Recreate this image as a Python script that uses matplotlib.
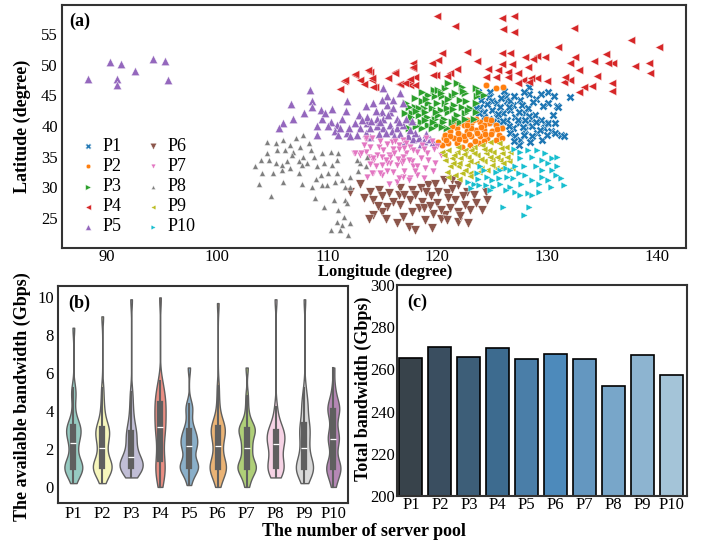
import numpy as np
import pandas as pd
import matplotlib
matplotlib.use("Agg")
import matplotlib.pyplot as plt
import seaborn as sns

# ---------------- data ----------------
pools = ["P1", "P2", "P3", "P4", "P5", "P6", "P7", "P8", "P9", "P10"]

# (a) server locations per pool, (longitude, latitude)
P1_pts = [(128.3, 46.4), (128.3, 45.2), (129.4, 45.2), (130.1, 45.6), (130.6, 44.8), (130.1, 43.8),
          (130.9, 43.3), (124.8, 45.6), (124.7, 44.7), (125.0, 44.0), (125.4, 43.7), (123.9, 43.1),
          (123.5, 42.9), (124.2, 42.3), (125.0, 42.6), (125.7, 43.1), (126.3, 44.0), (126.9, 43.4),
          (127.5, 44.2), (127.7, 43.4), (126.6, 42.6), (126.0, 42.1), (125.4, 41.5), (124.7, 41.2),
          (125.1, 40.7), (125.7, 40.4), (126.3, 41.0), (127.1, 41.5), (127.4, 40.4), (126.9, 39.6),
          (126.6, 38.8), (127.1, 38.3), (127.5, 37.7), (127.4, 36.9), (128.0, 39.3), (128.2, 40.4),
          (128.5, 41.2), (128.9, 41.8), (128.6, 39.9), (129.1, 38.8), (129.7, 39.6), (129.8, 40.4),
          (130.3, 39.1), (130.7, 38.8), (131.2, 38.5), (130.1, 40.4), (130.7, 40.4), (129.4, 41.0),
          (129.5, 37.7), (128.0, 42.1), (128.2, 42.9), (127.4, 42.3), (126.2, 44.8), (126.6, 44.1),
          (124.2, 41.5), (123.8, 42.1), (128.6, 38.3), (127.9, 38.5), (132.1, 44.7), (131.0, 43.1),
          (131.5, 38.4), (124.5, 43.6), (125.8, 44.5), (127.0, 44.8), (127.9, 45.6), (129.0, 44.3),
          (129.6, 43.2), (128.7, 43.9), (126.5, 43.0), (127.3, 41.0), (128.3, 41.6), (129.0, 40.6),
          (128.0, 40.9), (127.8, 39.8), (126.5, 39.9), (126.0, 40.8), (129.3, 39.3), (130.0, 38.5),
          (128.4, 37.4), (127.0, 37.5), (125.5, 41.9), (124.0, 44.2), (123.7, 45.5), (126.1, 45.7),
          (130.5, 41.8)]
P2_pts = [(124.4, 46.7), (125.3, 46.1), (126.0, 46.4), (120.6, 38.0), (121.2, 39.1), (121.8, 39.6),
          (122.4, 40.2), (123.1, 40.4), (123.9, 40.7), (124.7, 40.4), (125.3, 40.2), (125.9, 39.6),
          (125.6, 38.5), (125.0, 39.1), (124.2, 39.3), (123.5, 39.3), (122.7, 39.1), (122.1, 38.5),
          (121.5, 38.0), (121.0, 37.2), (120.4, 36.9), (121.8, 37.2), (122.5, 37.7), (123.1, 38.3),
          (123.9, 38.3), (124.5, 38.0), (123.8, 37.2), (123.0, 36.9), (122.2, 36.6), (125.3, 37.7),
          (125.9, 38.0), (124.4, 41.2), (123.5, 41.2), (122.7, 41.0), (121.9, 40.4), (121.3, 39.9),
          (123.1, 39.6), (120.7, 38.5), (120.1, 37.4), (124.2, 40.2), (122.4, 38.3), (121.2, 38.4),
          (121.9, 38.9), (122.9, 38.6), (123.6, 38.8), (124.3, 38.7), (124.9, 38.6), (125.4, 39.5),
          (124.0, 39.8), (122.7, 40.1), (121.6, 40.8), (123.2, 40.9), (124.9, 41.0), (122.0, 37.8),
          (123.4, 37.6), (124.2, 37.5), (120.8, 37.7)]
P3_pts = [(119.7, 45.9), (120.7, 46.2), (121.8, 47.0), (122.2, 46.4), (123.5, 46.2), (122.5, 45.3),
          (123.6, 44.8), (122.1, 44.2), (121.3, 44.8), (120.4, 44.8), (119.8, 44.8), (119.2, 45.0),
          (118.0, 44.5), (118.6, 44.0), (119.2, 43.7), (120.0, 43.7), (120.7, 43.7), (121.5, 43.4),
          (122.2, 43.1), (123.0, 42.9), (123.5, 42.3), (122.5, 42.1), (121.8, 41.8), (121.0, 42.3),
          (120.3, 42.6), (119.5, 42.9), (118.8, 42.9), (118.0, 43.1), (117.4, 43.1), (117.1, 42.1),
          (117.7, 42.1), (118.3, 41.8), (119.1, 41.5), (119.8, 41.2), (120.6, 41.2), (121.3, 40.7),
          (122.1, 40.7), (120.0, 40.2), (119.2, 40.2), (118.5, 40.7), (117.7, 40.7), (117.4, 39.6),
          (118.6, 39.6), (119.5, 39.6), (120.9, 39.6), (124.2, 45.0), (123.5, 43.7), (121.6, 45.3),
          (120.1, 45.9), (118.3, 42.9), (118.9, 42.3), (120.9, 42.9), (120.1, 41.8), (118.1, 39.9),
          (122.5, 41.2), (123.3, 41.2), (118.6, 45.5), (119.0, 44.3), (120.3, 45.4), (121.0, 44.3),
          (122.6, 44.0), (121.4, 42.8), (122.8, 42.6), (119.9, 42.3), (118.1, 42.5), (117.6, 41.4),
          (118.9, 40.9), (120.5, 40.6), (121.6, 41.2), (119.6, 40.7), (120.4, 39.8), (122.3, 45.7),
          (121.0, 47.0), (123.8, 45.6), (117.2, 43.8)]
P4_pts = [(120.0, 57.9), (121.6, 56.3), (125.9, 57.6), (127.0, 57.9), (126.0, 55.8), (127.0, 55.3),
          (132.4, 56.0), (137.6, 54.0), (140.1, 52.9), (131.0, 52.9), (122.7, 52.1), (120.4, 51.9),
          (125.9, 51.9), (126.6, 51.9), (135.3, 51.7), (132.5, 51.2), (134.2, 50.6), (136.0, 50.3),
          (138.0, 49.8), (139.2, 50.3), (139.3, 48.6), (135.5, 50.3), (132.1, 50.3), (132.9, 49.1),
          (134.5, 48.1), (135.9, 47.0), (135.9, 45.7), (134.1, 46.5), (133.3, 46.4), (132.9, 45.5),
          (131.5, 47.2), (132.1, 47.5), (130.0, 47.3), (129.1, 47.8), (128.5, 47.8), (128.2, 49.6),
          (129.1, 51.4), (129.8, 51.2), (128.0, 51.2), (128.7, 50.9), (126.8, 50.1), (125.9, 50.1),
          (125.5, 49.1), (124.6, 49.3), (126.4, 48.8), (127.3, 48.6), (127.8, 47.5), (126.4, 48.0),
          (125.3, 48.0), (124.4, 48.0), (123.6, 50.6), (121.8, 49.3), (121.2, 48.6), (120.9, 48.1),
          (119.9, 48.3), (119.5, 50.3), (120.1, 50.8), (117.8, 50.3), (117.8, 49.5), (116.2, 48.8),
          (115.5, 47.8), (117.3, 47.3), (118.0, 48.0), (116.5, 46.8), (117.5, 46.7), (113.9, 48.8),
          (114.1, 47.5), (114.3, 46.4), (127.3, 47.0), (128.3, 47.2), (131.6, 48.0), (111.2, 46.0),
          (111.5, 47.3), (112.5, 48.3), (113.0, 47.5), (113.3, 46.8), (113.7, 49.1), (114.1, 47.8),
          (114.2, 46.4), (116.2, 48.6), (116.6, 46.8), (117.1, 47.0), (117.5, 47.7), (118.0, 46.7),
          (117.8, 49.6), (119.6, 48.3), (112.5, 48.5), (111.6, 47.5)]
P5_pts = [(88.3, 47.6), (90.3, 50.4), (91.3, 50.1), (92.5, 49.0), (90.9, 47.7), (90.9, 46.7),
          (94.2, 50.9), (95.3, 50.6), (95.5, 47.5),
          (108.4, 45.9), (106.7, 43.5), (108.6, 44.1), (108.6, 43.0), (107.9, 42.1), (106.9, 41.2),
          (106.0, 40.4), (105.6, 39.7), (109.4, 42.6), (110.4, 42.7), (111.8, 44.0), (111.7, 42.4),
          (111.3, 41.2), (110.3, 40.7), (109.5, 41.2), (109.1, 39.9), (110.1, 39.9), (110.9, 40.2),
          (110.7, 39.1), (109.1, 38.5), (111.0, 38.5), (111.8, 38.8), (112.5, 40.4), (113.5, 43.3),
          (114.2, 43.7), (115.1, 46.1), (115.4, 44.8), (116.0, 44.2), (115.4, 43.4), (115.0, 42.3),
          (114.5, 41.2), (113.6, 40.4), (113.0, 39.6), (112.7, 38.5), (113.5, 38.8), (113.9, 39.6),
          (114.5, 39.9), (115.1, 41.2), (115.7, 42.3), (116.3, 41.2), (115.7, 40.2), (115.1, 39.6),
          (116.3, 39.6), (116.9, 40.2), (113.6, 41.5), (116.0, 42.9), (115.0, 44.2), (112.1, 38.3),
          (109.8, 42.1), (117.3, 38.4), (117.8, 37.8), (118.3, 38.0), (118.8, 37.6), (119.3, 37.9),
          (118.0, 38.8), (119.0, 38.6), (117.1, 37.6), (119.6, 37.3), (118.5, 37.1), (116.6, 45.3),
          (116.9, 43.8), (117.2, 41.2), (116.6, 38.7), (114.0, 40.8), (114.8, 40.6), (115.5, 41.8),
          (116.5, 40.6), (115.9, 39.1), (114.7, 38.6), (113.9, 38.2), (116.1, 38.3), (112.9, 41.8),
          (112.0, 39.6), (111.2, 39.7), (113.2, 40.9), (114.4, 42.5), (117.5, 39.3), (115.3, 38.9),
          (117.7, 40.8)]
P6_pts = [(113.0, 30.6), (112.1, 29.3), (113.9, 29.3), (114.7, 29.5), (114.2, 27.9), (115.0, 28.5),
          (115.6, 29.0), (116.5, 28.7), (116.6, 29.8), (117.7, 29.5), (118.5, 29.8), (119.2, 30.4),
          (119.8, 30.6), (120.6, 31.2), (121.3, 31.2), (121.9, 30.4), (122.7, 29.3), (123.3, 28.7),
          (124.4, 29.3), (124.5, 27.9), (124.1, 26.3), (123.0, 26.3), (122.5, 27.1), (121.6, 27.9),
          (121.2, 26.6), (120.7, 25.5), (120.3, 24.9), (120.9, 24.7), (121.9, 24.4), (122.8, 24.1),
          (121.9, 26.0), (120.0, 27.4), (119.4, 28.5), (118.6, 27.6), (118.3, 26.6), (117.5, 27.9),
          (116.6, 27.1), (116.0, 27.6), (115.4, 26.8), (115.0, 26.0), (114.2, 25.5), (113.8, 24.9),
          (115.3, 24.9), (116.3, 24.1), (117.4, 23.6), (118.0, 23.0), (119.5, 23.3), (118.8, 26.6),
          (120.1, 29.3), (120.9, 29.0), (117.7, 26.0), (120.3, 26.3), (117.0, 28.7), (118.0, 28.8),
          (119.0, 29.3), (121.3, 29.7), (122.3, 28.6), (123.5, 27.5), (122.1, 25.3), (119.6, 25.6),
          (118.9, 24.6), (116.9, 25.2), (114.6, 27.0), (113.3, 28.2), (121.0, 28.2), (119.3, 27.0)]
P7_pts = [(112.4, 35.5), (113.0, 35.3), (113.5, 35.8), (113.9, 36.6), (113.5, 37.7), (114.1, 38.0),
          (114.7, 36.6), (115.1, 36.1), (114.5, 35.3), (113.8, 35.0), (114.2, 34.2), (115.0, 33.6),
          (115.7, 33.9), (116.3, 33.6), (115.6, 35.3), (116.0, 36.3), (116.5, 36.9), (116.9, 37.7),
          (117.5, 36.6), (117.2, 35.5), (116.9, 35.0), (117.7, 34.2), (117.8, 33.4), (113.6, 31.7),
          (114.2, 32.3), (115.0, 32.0), (115.6, 30.6), (116.3, 30.9), (116.9, 31.7), (117.5, 31.5),
          (118.2, 32.0), (115.0, 35.0), (115.9, 37.4), (118.2, 35.8), (113.5, 38.0), (113.3, 36.9),
          (112.5, 35.5), (113.1, 35.5), (114.2, 34.7), (115.4, 33.9), (115.7, 35.0), (116.5, 36.3),
          (117.2, 37.2), (117.8, 36.1), (118.6, 36.9), (119.1, 35.5), (118.5, 34.7), (119.2, 34.4),
          (119.8, 33.9), (118.9, 33.1), (118.2, 33.4), (117.4, 34.4), (116.8, 33.9), (116.0, 32.5),
          (116.5, 31.5), (117.4, 31.2), (114.8, 32.3), (114.1, 32.3), (119.5, 37.5), (120.0, 36.8),
          (119.0, 38.0), (120.3, 35.2), (119.6, 32.6), (118.8, 31.5), (114.8, 37.5), (115.4, 37.0),
          (116.2, 37.6), (117.0, 36.4), (115.3, 34.4), (116.4, 34.6), (116.9, 34.2), (118.8, 36.2),
          (119.7, 36.2), (117.0, 32.7), (115.4, 32.7), (118.0, 32.7), (114.4, 33.4), (116.1, 35.6),
          (113.9, 33.8)]
P8_pts = [(104.5, 37.4), (105.3, 37.2), (106.0, 37.7), (106.6, 36.9), (107.2, 38.0), (107.8, 38.5),
          (108.3, 37.2), (107.5, 36.6), (106.9, 35.8), (106.2, 36.1), (105.4, 36.1), (104.5, 35.5),
          (104.7, 34.4), (105.3, 33.9), (105.9, 32.8), (105.1, 32.3), (104.1, 32.3), (103.4, 33.5),
          (103.8, 30.6), (104.9, 28.6), (105.9, 33.6), (106.8, 35.3), (107.4, 34.2), (107.8, 35.0),
          (107.7, 33.6), (107.4, 32.3), (106.6, 33.1), (108.5, 36.1), (107.7, 30.6), (108.6, 30.1),
          (109.5, 30.4), (109.5, 35.5), (110.3, 35.8), (111.0, 35.5), (109.1, 33.4), (109.7, 33.9),
          (110.4, 33.6), (110.9, 34.4), (109.4, 32.0), (110.1, 32.3), (110.9, 32.3), (110.0, 30.4),
          (110.7, 30.9), (111.3, 31.2), (112.1, 31.7), (108.9, 28.2), (109.7, 26.8), (110.6, 27.9),
          (111.6, 27.9), (111.0, 26.3), (111.8, 27.4), (111.5, 25.2), (110.9, 24.4), (111.3, 23.8),
          (112.1, 24.1), (110.3, 23.0), (111.2, 23.0), (111.9, 22.2), (113.0, 33.9), (113.5, 33.4),
          (112.7, 34.4), (113.6, 35.0), (112.8, 32.6), (111.6, 30.1), (112.1, 30.1), (106.3, 34.3),
          (108.2, 34.0), (108.8, 35.0), (109.0, 31.3), (104.0, 34.5), (106.0, 30.9)]
P9_pts = [(120.4, 35.8), (121.0, 36.1), (121.8, 35.8), (122.5, 36.1), (123.3, 36.6), (124.1, 36.9),
          (124.8, 37.4), (125.6, 37.2), (126.2, 36.6), (126.6, 35.8), (125.9, 35.5), (125.1, 35.8),
          (124.4, 35.5), (123.6, 35.3), (122.8, 35.0), (122.1, 34.7), (121.3, 34.7), (120.7, 34.4),
          (121.2, 33.4), (121.9, 33.4), (122.7, 33.6), (123.5, 33.9), (124.2, 34.2), (125.0, 34.4),
          (125.7, 34.4), (126.5, 34.2), (125.3, 33.1), (124.5, 32.8), (123.8, 32.5), (123.0, 32.3),
          (122.2, 32.3), (121.6, 32.0), (120.6, 35.3), (120.9, 32.5), (126.8, 33.1), (125.9, 33.1),
          (123.1, 36.1), (124.7, 36.1), (121.0, 31.6), (122.0, 31.4), (123.0, 31.8), (121.5, 35.2),
          (122.4, 35.4), (123.3, 35.6), (124.0, 34.6), (124.8, 35.0), (125.4, 34.9), (126.0, 34.0),
          (123.0, 34.2), (122.0, 33.9), (121.4, 34.0), (124.0, 33.2), (125.0, 33.6), (126.3, 35.0),
          (124.2, 36.3), (121.9, 36.6), (122.5, 32.8), (125.8, 36.4)]
P10_pts = [(127.5, 35.8), (128.2, 36.1), (129.1, 36.1), (129.8, 35.5), (130.4, 34.7), (130.9, 35.0),
           (129.5, 34.4), (130.1, 33.9), (130.9, 33.4), (129.5, 32.8), (130.4, 32.8), (131.2, 31.5),
           (129.5, 31.7), (130.1, 31.2), (129.2, 30.6), (130.3, 30.1), (131.5, 30.4), (127.5, 34.7),
           (127.9, 33.4), (127.1, 33.4), (127.4, 32.3), (128.0, 32.0), (126.9, 31.5), (126.3, 31.7),
           (125.7, 32.8), (125.3, 32.5), (125.0, 31.2), (124.5, 31.7), (124.2, 32.8), (123.9, 33.4),
           (123.6, 32.3), (123.3, 30.6), (123.8, 30.4), (124.4, 30.4), (125.1, 30.1), (125.7, 30.6),
           (126.6, 30.1), (127.1, 29.3), (128.2, 29.0), (128.6, 28.7), (129.2, 29.3), (127.5, 28.7),
           (128.3, 26.8), (126.0, 26.7), (127.9, 25.5), (126.2, 33.1), (126.6, 32.8), (125.6, 31.5),
           (122.8, 30.8), (123.1, 29.9), (128.6, 34.9), (129.0, 33.4), (128.6, 31.2), (127.6, 30.6),
           (126.2, 29.6), (124.8, 29.5), (123.7, 31.4), (130.8, 32.0), (127.0, 36.3)]
locations = [P1_pts, P2_pts, P3_pts, P4_pts, P5_pts, P6_pts, P7_pts, P8_pts, P9_pts, P10_pts]

# (b) available bandwidth samples per pool (Gbps)
bw_P1 = [0.2, 0.5, 0.7, 0.8, 0.9, 1.0, 1.0, 1.05, 1.1, 1.1, 1.2, 1.3, 1.5, 1.8, 2.1, 2.3, 2.4, 2.6,
         2.8, 2.9, 3.0, 3.0, 3.1, 3.2, 3.3, 3.5, 3.9, 4.6, 5.0, 5.2, 8.4]
bw_P2 = [0.2, 0.5, 0.7, 0.8, 0.9, 1.0, 1.0, 1.1, 1.1, 1.15, 1.2, 1.3, 1.4, 1.7, 2.0, 2.15, 2.3, 2.5,
         2.7, 2.8, 2.9, 3.0, 3.05, 3.1, 3.3, 3.6, 4.0, 4.5, 5.2, 9.0]
bw_P3 = [0.5, 0.7, 0.85, 0.95, 1.0, 1.0, 1.05, 1.1, 1.1, 1.15, 1.2, 1.25, 1.3, 1.4, 1.5, 1.65, 1.8,
         2.0, 2.2, 2.4, 2.6, 2.75, 2.85, 2.95, 3.2, 3.5, 3.9, 4.4, 5.0, 9.9]
bw_P4 = [0.0, 0.3, 0.6, 0.8, 1.0, 1.1, 1.3, 1.6, 1.9, 2.2, 2.5, 2.8, 3.0, 3.15, 3.3, 3.5, 3.7, 3.9,
         4.1, 4.3, 4.4, 4.6, 4.8, 5.0, 5.3, 5.6, 10.0]
bw_P5 = [0.1, 0.5, 0.7, 0.9, 1.0, 1.0, 1.1, 1.1, 1.2, 1.3, 1.5, 1.8, 2.0, 2.1, 2.2, 2.3, 2.4, 2.5,
         2.6, 2.8, 2.9, 3.0, 3.2, 3.6, 4.0, 4.2, 4.4, 6.3]
bw_P6 = [0.0, 0.3, 0.6, 0.8, 0.9, 1.0, 1.0, 1.05, 1.1, 1.1, 1.2, 1.4, 1.7, 2.0, 2.15, 2.3, 2.6, 2.8,
         2.9, 3.0, 3.0, 3.1, 3.2, 3.3, 3.5, 3.9, 4.5, 5.3, 9.7]
bw_P7 = [0.0, 0.3, 0.6, 0.8, 0.9, 1.0, 1.0, 1.1, 1.1, 1.2, 1.3, 1.6, 1.9, 2.0, 2.15, 2.3, 2.6, 2.8,
         2.9, 3.0, 3.0, 3.1, 3.2, 3.3, 3.6, 4.1, 4.8, 6.3]
bw_P8 = [0.5, 0.7, 0.8, 0.9, 1.0, 1.0, 1.1, 1.2, 1.4, 1.6, 1.8, 2.0, 2.2, 2.3, 2.4, 2.5, 2.6, 2.7,
         2.8, 2.9, 3.0, 3.1, 3.3, 3.6, 4.2, 9.9]
bw_P9 = [0.2, 0.5, 0.7, 0.8, 0.9, 1.0, 1.0, 1.05, 1.1, 1.1, 1.2, 1.4, 1.7, 2.0, 2.15, 2.3, 2.6, 2.9,
         3.0, 3.1, 3.2, 3.4, 3.8, 4.2, 4.4, 4.6, 5.2, 9.9]
bw_P10 = [0.0, 0.3, 0.6, 0.8, 0.9, 1.0, 1.0, 1.1, 1.2, 1.4, 1.8, 2.2, 2.4, 2.5, 2.6, 2.7, 2.9, 3.2,
          3.6, 3.9, 4.0, 4.1, 4.2, 4.3, 4.5, 4.8, 5.3, 6.3]
bandwidth = [bw_P1, bw_P2, bw_P3, bw_P4, bw_P5, bw_P6, bw_P7, bw_P8, bw_P9, bw_P10]

# (c) total bandwidth per pool (Gbps)
total_bw = [265.6, 270.4, 266.1, 270.2, 265.1, 267.5, 265.0, 252.2, 266.6, 257.3]

# ---------------- style ----------------
plt.rcParams['font.family'] = ['Liberation Serif', 'DejaVu Serif']
spine_col = "#333333"
tab_cols = ["#1f77b4", "#ff7f0e", "#2ca02c", "#d62728", "#9467bd",
            "#8c564b", "#e377c2", "#7f7f7f", "#bcbd22", "#17becf"]
markers = ["X", "o", ">", "<", "^", "v", "v", "^", "<", ">"]
msizes = [36, 22, 34, 34, 36, 46, 24, 18, 24, 24]
bar_cols = ["#38434b", "#3a4e60", "#3d5e78", "#3d6b8f", "#4a7ea8",
            "#4d8abb", "#6497c0", "#78a6c9", "#8db4d0", "#a4c4d8"]


def frame(ax):
    for s in ax.spines.values():
        s.set_color(spine_col)
        s.set_linewidth(1.5)
    ax.tick_params(length=0, labelsize=12, pad=3)


fig = plt.figure(figsize=(7.06, 5.41), dpi=100)

# ---------------- (a) scatter ----------------
ax1 = fig.add_axes([0.0878, 0.5416, 0.8839, 0.4492])
for i, pts in enumerate(locations):
    arr = np.array(pts)
    ax1.scatter(arr[:, 0], arr[:, 1], marker=markers[i], s=msizes[i], c=tab_cols[i],
                edgecolors="white", linewidths=0.3, label=pools[i])
ax1.set_xlim(85.9, 142.6)
ax1.set_ylim(20.1, 59.7)
ax1.set_xticks([90, 100, 110, 120, 130, 140])
ax1.set_yticks([25, 30, 35, 40, 45, 50, 55])
frame(ax1)
ax1.tick_params(axis="x", pad=1)
ax1.text(0.012, 0.97, "(a)", transform=ax1.transAxes, fontsize=13, fontweight="bold", va="top")
ax1.legend(ncol=2, loc="lower left", bbox_to_anchor=(-0.002, -0.015), frameon=False, fontsize=13,
           markerscale=0.7, handletextpad=0.2, columnspacing=1.15, labelspacing=0.17,
           handlelength=1.2)

# ---------------- (b) violins ----------------
ax2 = fig.add_axes([0.0822, 0.0702, 0.4108, 0.4011])
df = pd.DataFrame({"pool": [p for p, v in zip(pools, bandwidth) for _ in v],
                   "bw": [x for v in bandwidth for x in v]})
sns.violinplot(data=df, x="pool", y="bw", hue="pool", palette="Set3", legend=False,
               cut=0, bw_adjust=0.5, linewidth=1, common_norm=True, ax=ax2)
ax2.set_xlim(-0.53, 9.51)
ax2.set_ylim(-0.85, 10.6)
ax2.set_yticks([0, 2, 4, 6, 8, 10])
ax2.set_xlabel("")
ax2.set_ylabel("")
frame(ax2)
ax2.tick_params(axis="x", pad=2.5)
ax2.text(0.035, 0.96, "(b)", transform=ax2.transAxes, fontsize=13, fontweight="bold", va="top")

# ---------------- (c) bars ----------------
ax3 = fig.add_axes([0.5619, 0.0832, 0.4108, 0.39])
x = np.arange(len(pools))
ax3.bar(x, total_bw, width=0.8, color=bar_cols, edgecolor="black", linewidth=1.2)
ax3.set_xticks(x)
ax3.set_xticklabels(pools)
ax3.set_xlim(-0.49, 9.52)
ax3.set_ylim(200, 300)
ax3.set_yticks([200, 220, 240, 260, 280, 300])
frame(ax3)
ax3.tick_params(pad=1)
ax3.text(0.035, 0.96, "(c)", transform=ax3.transAxes, fontsize=13, fontweight="bold", va="top")

# ---------------- labels ----------------
fig.text(385 / 706, 1 - 272.5 / 541, "Longitude (degree)", ha="center", va="center",
         fontsize=12, fontweight="bold")
fig.text(22 / 706, 1 - 126 / 541, "Latitude (degree)", ha="center", va="center",
         rotation=90, fontsize=13, fontweight="bold")
fig.text(22 / 706, 1 - 397 / 541, "The available bandwidth (Gbps)", ha="center", va="center",
         rotation=90, fontsize=13, fontweight="bold")
fig.text(363 / 706, 1 - 389 / 541, "Total bandwidth (Gbps)", ha="center", va="center",
         rotation=90, fontsize=13, fontweight="bold")
fig.text(364 / 706, 1 - 532 / 541, "The number of server pool", ha="center", va="center",
         fontsize=13, fontweight="bold")

fig.savefig("out.png", dpi=100)
